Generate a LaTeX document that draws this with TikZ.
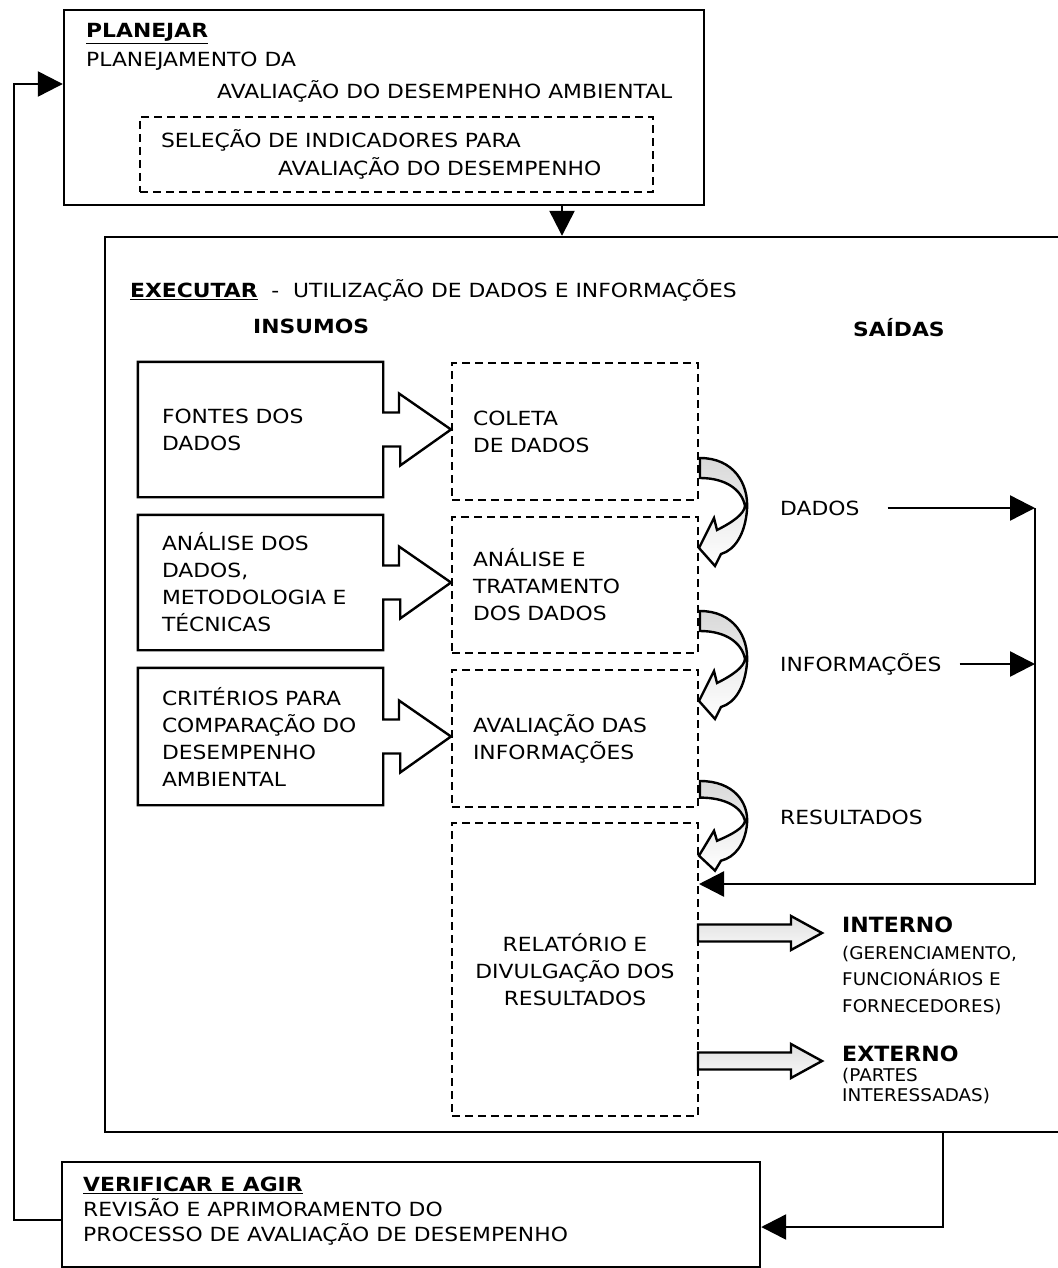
\documentclass[tikz,border=0pt]{standalone}
\usepackage{fontspec}
\setmainfont[FakeStretch=1.12]{DejaVu Sans}
\newfontfamily\tahoma[FakeStretch=1.05]{DejaVu Sans}
\usetikzlibrary{arrows.meta}

\tikzset{
  caixa/.style={draw, line width=2.4pt, inner sep=0pt},
  etapa/.style={draw, line width=2pt, dash pattern=on 8pt off 5pt, inner ysep=0pt, inner xsep=21pt,
    minimum width=246pt, text width=204pt, align=left, font=\fontsize{19.5}{27}\selectfont},
  insumo/.style={inner ysep=0pt, inner xsep=24pt, minimum width=245pt, text width=197pt, align=left,
    font=\fontsize{19.5}{27}\selectfont},
  rotulo/.style={anchor=west, align=left, inner sep=0pt, font=\fontsize{19.5}{27}\selectfont},
  saida/.style={anchor=west, align=left, inner sep=0pt, font=\tahoma\fontsize{17.5}{26.5}\selectfont},
  seta/.style={line width=2.4pt, -{Triangle[length=25pt,width=25pt]}},
  vazada/.style={line width=2.4pt, line join=miter},
}

% caixa de insumo com seta vazada ate a etapa
\newcommand{\insumo}[2]{%
  \draw[vazada] ([yshift=17pt]#1.east) -- (#1.north east) -- (#1.north west)
    -- (#1.south west) -- (#1.south east) -- ([yshift=-17pt]#1.east)
    -- ++(17,0) -- ++(0,19) -- (#2.west |- #1.east) -- ++(-52,-36) -- ++(0,19) -- cycle;}

% seta curva entre etapas
\newcommand{\curva}[2]{%
  \begin{scope}[shift={(#1)}, yscale=#2]
    \draw[vazada, top color=gray!30, bottom color=white]
      (1,0) .. controls (34,0) and (50,25) .. (48,52)
      .. controls (46,76) and (36,92) .. (22,96)
      -- (16,108) -- (0,90) -- (15,60) -- (18,72)
      .. controls (34,64) and (45,56) .. (46,48)
      .. controls (43,32) and (27,20) .. (1,20) -- cycle;
  \end{scope}}

% seta larga para as saidas do relatorio
\newcommand{\bloco}[1]{%
  \begin{scope}[shift={(#1)}]
    \draw[vazada, top color=gray!25, bottom color=gray!5]
      (-1,-8.5) -- (92,-8.5) -- (92,-17) -- (123,0) -- (92,17) -- (92,8.5) -- (-1,8.5) -- cycle;
  \end{scope}}

\begin{document}
\begin{tikzpicture}[x=1pt, y=-1pt]
\useasboundingbox (0,0) rectangle (1057,1268);

% planejar
\node[caixa, minimum width=640pt, minimum height=195pt] (planejar) at (384,107.5) {};
\node[rotulo, font=\fontsize{19.5}{29}\selectfont] (planejarT) at (86,47) {\underline{\textbf{PLANEJAR}}\\PLANEJAMENTO DA};
\node[rotulo] (planejarL) at (217,91) {AVALIAÇÃO DO DESEMPENHO AMBIENTAL};
\node[etapa, minimum width=513pt, minimum height=75pt, text width=471pt, font=\fontsize{19.5}{28}\selectfont]
  (selecao) at (396.5,154.5) {SELEÇÃO DE INDICADORES PARA\\\hspace*{117pt}AVALIAÇÃO DO DESEMPENHO};

% executar
\node[caixa, minimum width=960pt, minimum height=895pt] (executar) at (585,684.5) {};
\node[rotulo] (executarT) at (130,290) {\underline{\textbf{EXECUTAR}}\ \ -\ \ UTILIZAÇÃO DE DADOS E INFORMAÇÕES};
\node[rotulo] (insumos) at (253,326) {\textbf{INSUMOS}};
\node[rotulo] (saidas) at (853,328) {\textbf{SAÍDAS}};

\node[insumo, minimum height=135pt] (fontes) at (260.5,429.5) {FONTES DOS\\DADOS};
\node[insumo, minimum height=135pt] (analiseDados) at (260.5,582.5) {ANÁLISE DOS\\DADOS,\\METODOLOGIA E\\TÉCNICAS};
\node[insumo, minimum height=137pt] (criterios) at (260.5,736.5) {CRITÉRIOS PARA\\COMPARAÇÃO DO\\DESEMPENHO\\AMBIENTAL};

\node[etapa, minimum height=137pt] (coleta) at (575,431.5) {COLETA\\DE DADOS};
\node[etapa, minimum height=136pt] (tratamento) at (575,585) {ANÁLISE E\\TRATAMENTO\\DOS DADOS};
\node[etapa, minimum height=137pt] (avaliacao) at (575,738.5) {AVALIAÇÃO DAS\\INFORMAÇÕES};
\node[etapa, minimum height=293pt, align=center] (relatorio) at (575,969.5) {RELATÓRIO E\\DIVULGAÇÃO DOS\\RESULTADOS};

\insumo{fontes}{coleta}
\insumo{analiseDados}{tratamento}
\insumo{criterios}{avaliacao}

\curva{[yshift=43pt]coleta.south east}{1}
\curva{[yshift=43pt]tratamento.south east}{1}
\curva{[yshift=27pt]avaliacao.south east}{0.83}

% saidas
\node[rotulo] (dados) at (780,508) {DADOS};
\node[rotulo] (informacoes) at (780,664) {INFORMAÇÕES};
\node[rotulo] (resultados) at (780,817) {RESULTADOS};
\coordinate (retorno) at (1035,884);
\draw[seta] ([xshift=28pt]dados.east) -- (dados.east -| retorno);
\draw[seta] ([xshift=18pt]informacoes.east) -- (informacoes.east -| retorno);
\draw[seta] (dados.east -| retorno) -- (retorno) -- (retorno -| relatorio.east);

\bloco{[yshift=36.5pt]relatorio.east}
\bloco{[yshift=-91.5pt]relatorio.east}
\node[saida] (interno) at (842,966) {{\fontsize{21}{26.5}\selectfont\bfseries INTERNO}\\(GERENCIAMENTO,\\FUNCIONÁRIOS E\\FORNECEDORES)};
\node[saida, font=\tahoma\fontsize{17.5}{20}\selectfont] (externo) at (842,1075) {{\fontsize{21}{20}\selectfont\bfseries EXTERNO}\\(PARTES\\INTERESSADAS)};

% verificar e agir
\node[caixa, minimum width=698pt, minimum height=105pt] (verificar) at (411,1214.5) {};
\node[rotulo, font=\fontsize{19.5}{25}\selectfont] (verificarT) at (83,1211) {\underline{\textbf{VERIFICAR E AGIR}}\\REVISÃO E APRIMORAMENTO DO\\PROCESSO DE AVALIAÇÃO DE DESEMPENHO};

% ciclo
\coordinate (desce) at ([xshift=178pt]planejar.south);
\draw[seta] (desce) -- (desce |- executar.north);
\draw[seta] ([xshift=358pt]executar.south) |- ([yshift=-12.5pt]verificar.east);
\draw[seta] ([yshift=-5.5pt]verificar.west) -- ++(-47,0) |- ([yshift=23.5pt]planejar.west);
\end{tikzpicture}
\end{document}
